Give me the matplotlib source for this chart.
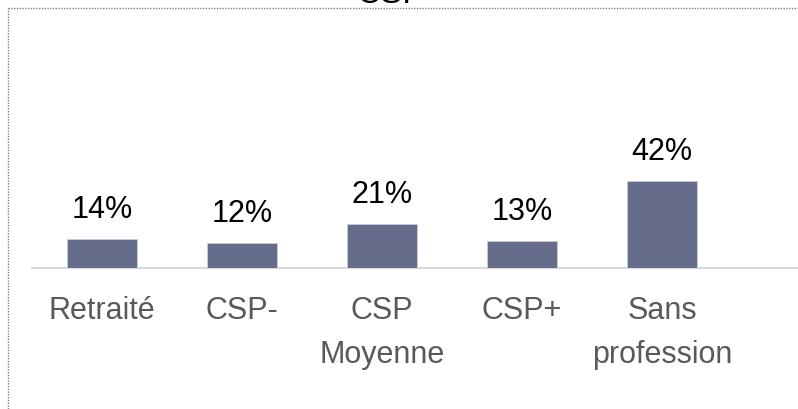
import matplotlib
matplotlib.use("Agg")
import matplotlib.pyplot as plt
from matplotlib.lines import Line2D
from matplotlib import font_manager

categories = ["Retraité", "CSP-", "CSP\nMoyenne", "CSP+", "Sans\nprofession"]
values = [14, 12, 21, 13, 42]
value_labels = ["14%", "12%", "21%", "13%", "42%"]
title = "CSP"

names = {f.name for f in font_manager.fontManager.ttflist}
fam = "Liberation Sans Narrow" if "Liberation Sans Narrow" in names else "Liberation Sans"
plt.rcParams["font.family"] = [fam, "DejaVu Sans"]

W, H = 798, 409
fig = plt.figure(figsize=(W / 100, H / 100), dpi=100)
ax = fig.add_axes([32 / W, (H - 268) / H, (W - 32) / W, 260 / H])

x = list(range(len(categories)))
ax.bar(x, values, width=0.5, color="#666d8a", edgecolor="#c9cddb", linewidth=0.6, zorder=3)
ax.set_xlim(-0.5, -0.5 + (W - 32) / 140)
ax.set_ylim(0, 125)

for xi, v, lab in zip(x, values, value_labels):
    ax.annotate(lab, (xi, v), xytext=(0, 10), textcoords="offset points",
                ha="center", va="bottom", fontsize=22, color="#000000")

ax.set_xticks(x)
ax.set_xticklabels(categories, fontsize=22, color="#595959", linespacing=1.6)
ax.tick_params(axis="x", length=0, pad=20)
ax.set_yticks([])
for s in ["top", "right", "left"]:
    ax.spines[s].set_visible(False)
ax.spines["bottom"].set_color("#d9d9d9")
ax.spines["bottom"].set_linewidth(1.5)

# dotted outer border (left and top)
fig.add_artist(Line2D([8 / W, 8 / W], [0, 1 - 8 / H], transform=fig.transFigure,
                      color="#808080", linestyle=(0, (1, 1)), linewidth=1))
fig.add_artist(Line2D([8 / W, 1], [1 - 8 / H, 1 - 8 / H], transform=fig.transFigure,
                      color="#808080", linestyle=(0, (1, 1)), linewidth=1))

fig.text(391 / W, 1 - 3 / H, title, ha="center", va="baseline", fontsize=24, color="#000000")

fig.savefig("out.png", dpi=100)
